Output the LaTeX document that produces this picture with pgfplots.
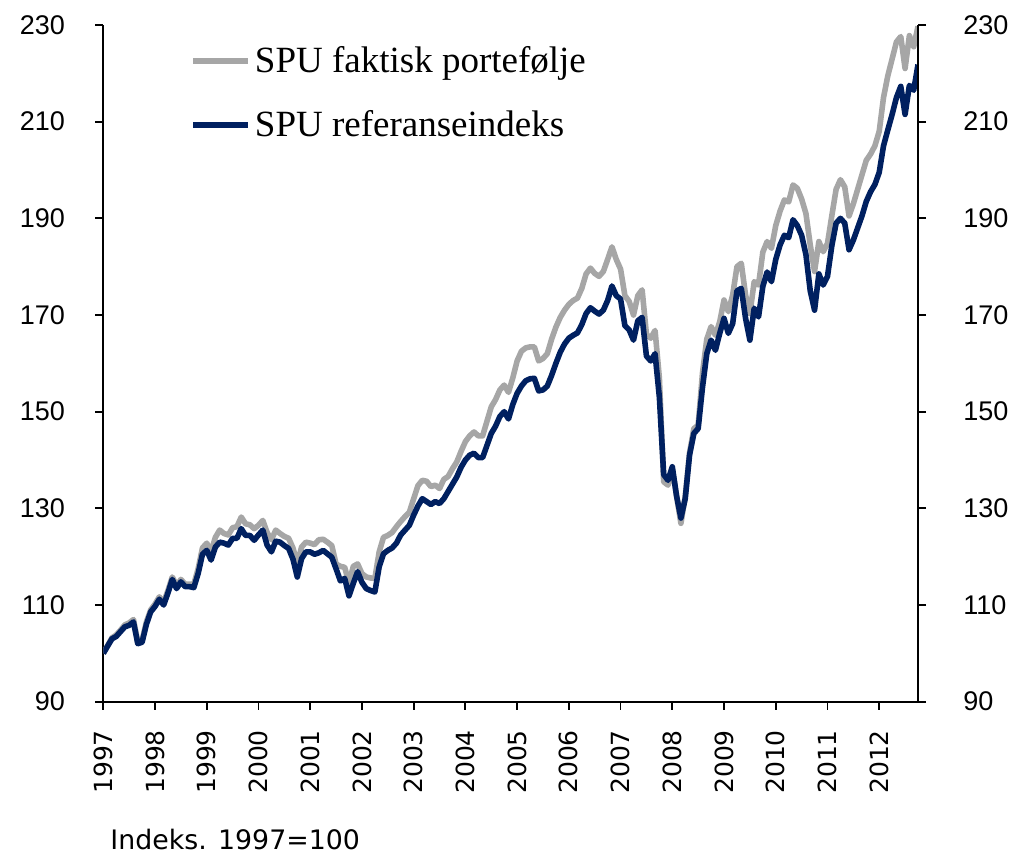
\documentclass[border=0pt]{standalone}
\usepackage{fontspec}
\setmainfont{Liberation Serif}
\newfontfamily\arialf{Liberation Sans}
\newfontfamily\verdf{DejaVu Sans}
\usepackage{pgfplots}
\usepackage{pgfplotstable}
\pgfplotsset{compat=1.18}
\definecolor{spugray}{HTML}{A6A6A6}
\definecolor{spublue}{HTML}{002060}

\pgfplotstableread{
m ref spu
0 100 100
1 101.5 101.6
2 103 103.2
3 103.5 103.8
4 104.5 104.8
5 105.5 105.9
6 105.8 106.3
7 106.5 107
8 102 102.3
9 102.3 102.7
10 106 106.5
11 108.6 109
12 109.7 110.2
13 111.2 111.7
14 110 110.5
15 112.5 113
16 115.3 115.8
17 113.4 114
18 114.8 115.3
19 113.8 114.3
20 113.8 114.3
21 113.6 114.3
22 116.5 117.5
23 120.5 121.8
24 121.3 122.8
25 119.3 121
26 122 124
27 123 125.5
28 122.8 124.8
29 122.4 124.5
30 123.8 126
31 123.8 126.2
32 125.8 128.2
33 124.4 126.8
34 124.4 126.6
35 123.4 125.8
36 124.5 126.5
37 125.5 127.5
38 122.4 125
39 121 123.5
40 123.2 125.5
41 123 124.8
42 122.3 124.2
43 121.7 123.8
44 119.5 121.8
45 115.8 118.6
46 119.6 122
47 121 123
48 121 122.8
49 120.5 122.5
50 120.8 123.5
51 121.3 123.6
52 120.6 123
53 119.9 122.3
54 117.5 118.5
55 115 118
56 115.5 117.8
57 111.9 114.5
58 114.5 118
59 116.9 118.5
60 114.7 116.5
61 113.4 115.8
62 113 115.6
63 112.7 115.5
64 117.9 121
65 120.6 124
66 121.3 124.4
67 121.8 125
68 122.8 126.2
69 124.5 127.3
70 125.5 128.3
71 126.5 129.2
72 128.6 132
73 130.5 134.7
74 132 135.8
75 131.4 135.6
76 130.8 134.5
77 131.4 134.8
78 131 134.1
79 132 136
80 133.5 136.6
81 135 138.2
82 136.5 139.6
83 138.5 141.8
84 140 143.8
85 141 145
86 141.4 145.8
87 140.5 145
88 140.5 145
89 143 148
90 145.5 151
91 147 152.5
92 149 154.5
93 150 155.5
94 148.5 154
95 151.5 157
96 153.8 160.5
97 155.3 162.5
98 156.4 163.2
99 156.8 163.4
100 156.9 163.4
101 154.3 160.5
102 154.5 161
103 155.3 162
104 157.5 165
105 160 167.5
106 162.3 169.5
107 164 171
108 165.2 172.2
109 165.8 173
110 166.3 173.5
111 168 175.5
112 170.3 178.5
113 171.5 179.7
114 170.8 178.6
115 170.2 178
116 171 179
117 173 181.5
118 176 184.1
119 174 181.5
120 173.3 179.5
121 167.8 174
122 166.9 172.8
123 164.8 170
124 168.8 174
125 169.5 175.2
126 161.5 166
127 160.5 165.2
128 162 166.8
129 153 157
130 137 135.5
131 135.8 134.8
132 138.6 138.2
133 132.5 132.5
134 128 126.9
135 132 132.5
136 141 141.5
137 145.5 146.5
138 146.5 147.2
139 155 158
140 162 165
141 164.8 167.6
142 162.7 165.8
143 166.2 168.6
144 169.3 173.1
145 166.2 170.7
146 168.2 174.1
147 175 180
148 175.5 180.7
149 169.3 174.1
150 164.8 170.3
151 171.4 176.9
152 169.6 176.2
153 175.9 183
154 178.9 185.2
155 176.9 183.8
156 181.5 188.5
157 184.5 191.5
158 186.5 193.8
159 186 193.4
160 189.7 196.9
161 188.5 196.2
162 186.5 194
163 182.5 191
164 175 184.5
165 171 179
166 178.5 185.2
167 176.2 183.1
168 178 184.8
169 184.3 190.5
170 189 196
171 190 198
172 189 196.5
173 183.5 190.5
174 185.5 193
175 188 196
176 190.5 199
177 193.5 202
178 195.5 203.3
179 197 205
180 199.5 208
181 205 215
182 208.3 219.5
183 211.5 223
184 215 226.5
185 217.3 227.6
186 211.5 221
187 217.5 227.8
188 216.5 225.5
189 221.8 229.7
}\spudata

\begin{document}
\begin{tikzpicture}
\begin{axis}[
  name=a, at={(0,0)}, anchor=south west,
  scale only axis, width=407.35pt, height=338.35pt,
  xmin=0, xmax=189, ymin=90, ymax=230,
  axis x line*=bottom, axis y line*=left,
  axis line style={line width=0.9pt, -},
  tick align=outside, major tick length=4pt,
  tick style={line width=0.9pt, black},
  xtick={0,12,...,180},
  xticklabels={1997,1998,1999,2000,2001,2002,2003,2004,2005,2006,2007,2008,2009,2010,2011,2012},
  ytick={90,110,...,230},
  x tick label style={font=\verdf\fontsize{12.5}{14}\selectfont, rotate=90, anchor=east, inner sep=0pt, xshift=-10pt},
  y tick label style={font=\arialf\fontsize{13.5}{16}\selectfont, anchor=east, inner sep=0pt, xshift=-15pt},
  /pgf/number format/assume math mode=true,
  legend style={at={(0.1064,0.975)}, anchor=north west, draw=none, fill=none,
    font=\fontsize{18.5}{22}\selectfont, inner sep=0pt, row sep=13.5pt},
  legend cell align=left,
  legend image code/.code={\draw[#1] (0pt,0pt) -- (27.5pt,0pt);},
]
\addplot[spugray, line width=2.8pt, line join=round] table[x=m, y=spu] {\spudata};
\addlegendentry{SPU faktisk portefølje}
\addplot[spublue, line width=2.8pt, line join=round] table[x=m, y=ref] {\spudata};
\addlegendentry{SPU referanseindeks}
\end{axis}
\begin{axis}[
  at={(0,0)}, anchor=south west,
  scale only axis, width=407.35pt, height=338.35pt,
  xmin=0, xmax=189, ymin=90, ymax=230,
  axis y line*=right, axis x line=none,
  axis line style={line width=0.9pt, -},
  tick align=outside, major tick length=4pt,
  tick style={line width=0.9pt, black},
  ytick={90,110,...,230},
  y tick label style={font=\arialf\fontsize{13.5}{16}\selectfont, anchor=west, inner sep=0pt, xshift=18.5pt},
  /pgf/number format/assume math mode=true,
]
\end{axis}
\node[anchor=base west, inner sep=0pt, font=\verdf\fontsize{13.4}{16}\selectfont] at ([xshift=3.35pt, yshift=-74.15pt]a.south west) {Indeks. 1997=100};
\pgfresetboundingbox
\path ([xshift=-51.65pt, yshift=-76.15pt]a.south west) rectangle ([xshift=46.5pt, yshift=12.5pt]a.north east);
\end{tikzpicture}
\end{document}
